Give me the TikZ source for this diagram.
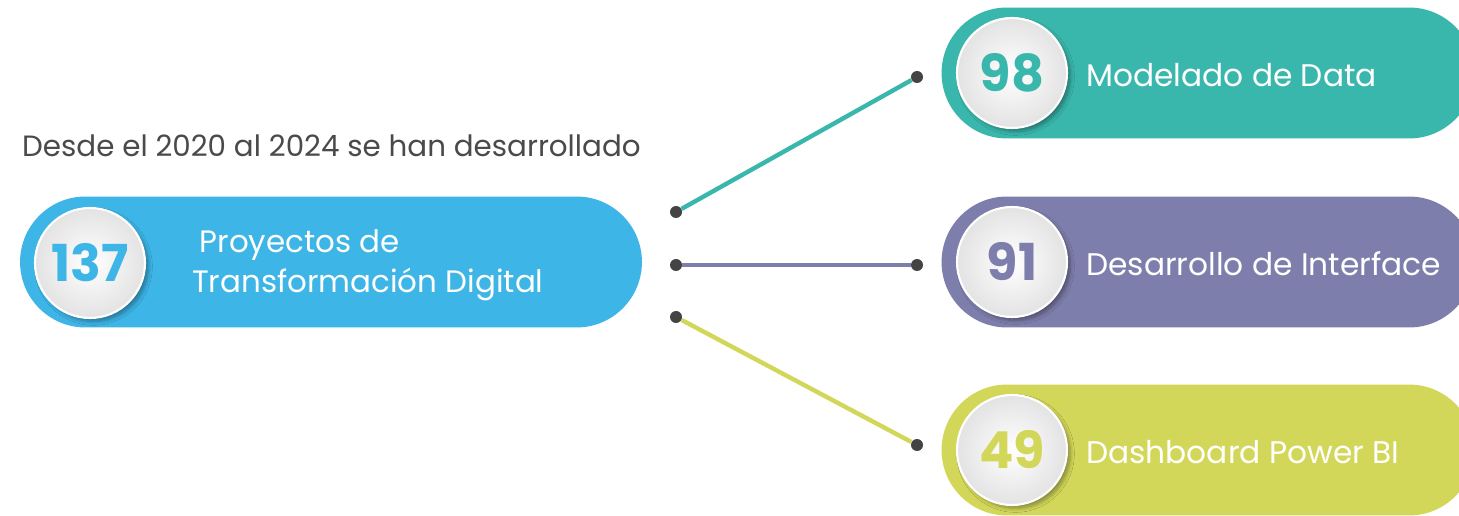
\documentclass[tikz,border=0pt]{standalone}
\usepackage{fontspec}
\setmainfont{Poppins}
\usepackage{tikz}
\usetikzlibrary{shapes.misc, positioning, shadows.blur}
\definecolor{skyblue}{HTML}{3DB5E6}
\definecolor{tealgreen}{HTML}{3AB7AC}
\definecolor{lavender}{HTML}{7E7EAC}
\definecolor{lime}{HTML}{D3D759}
\definecolor{darkdot}{HTML}{444444}
\definecolor{headgray}{HTML}{4A4A4A}
\tikzset{
  pill/.style={rounded rectangle, minimum height=2.62cm, inner sep=0pt},
  badge/.style={circle, minimum size=2.2cm, inner sep=0pt, draw=white, line width=1.2pt,
    shading=radial, inner color=white, outer color=gray!22,
    blur shadow={shadow xshift=2pt, shadow yshift=-2pt, shadow opacity=35, shadow blur steps=6},
    font=\fontsize{29}{29}\selectfont\bfseries},
  dot/.style={circle, fill=darkdot, minimum size=0.24cm, inner sep=0pt},
  link/.style={line width=2.5pt}
}
\begin{document}
\begin{tikzpicture}[x=0.02cm, y=-0.02cm]
  \clip (0,0) rectangle (1459,516);
  \fill[white] (0,0) rectangle (1459,516);
  % heading
  \node[headgray, anchor=west, font=\fontsize{16.7}{20}\selectfont] (head) at (16,146) {Desde el 2020 al 2024 se han desarrollado};
  % main pill
  \node[pill, fill=skyblue, minimum width=12.44cm] (proy) at (331,262) {};
  \node[badge, text=skyblue] (n137) at (90,263) {137};
  \node[white, anchor=west, align=left, font=\fontsize{17.6}{23}\selectfont] (ptext) at (186,265)
    {\hspace{0.15cm}Proyectos de\\Transformación Digital};
  % branches
  \foreach \i/\num/\label/\col/\yy/\ly/\ry in {1/98/Modelado de Data/tealgreen/73/212/77,
      2/91/Desarrollo de Interface/lavender/262/265/265,
      3/49/Dashboard Power BI/lime/450/317/445} {
    \node[pill, fill=\col, minimum width=10.66cm] (p\i) at (1208,\yy) {};
    \node[badge, text=\col] (b\i) at (1012,\yy) {\num};
    \node[white, anchor=west, font=\fontsize{17.8}{21}\selectfont] (t\i) at (1080,\yy+2) {\label};
    \node[dot] (l\i) at (676,\ly) {};
    \node[dot] (r\i) at (917,\ry) {};
    \draw[link, \col] (l\i) -- (r\i);
  }
\end{tikzpicture}
\end{document}
